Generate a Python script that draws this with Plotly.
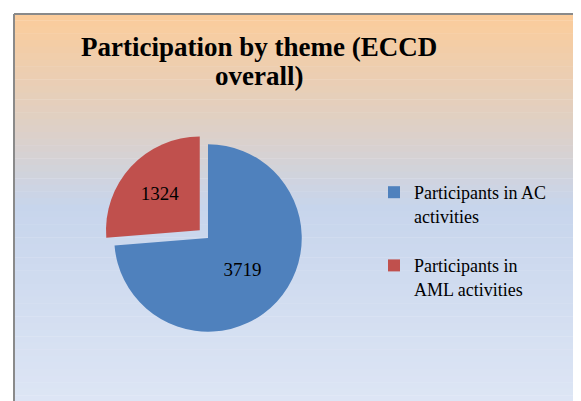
import plotly.graph_objects as go

categories = ["Participants in AC<br>activities<br> ", "Participants in<br>AML activities"]
values = [3719, 1324]
colors = ["#4F81BD", "#C0504D"]
title_lines = ["Participation by theme (ECCD", "overall)"]

W, H = 581, 401

def lerp(c1, c2, t):
    return tuple(round(a + (b - a) * t) for a, b in zip(c1, c2))

stops = [(6, (252, 204, 154)), (120, (222, 208, 198)), (200, (199, 213, 236)), (401, (222, 230, 245))]

shapes = []
N = 60
y0 = 6
for i in range(N):
    ya = y0 + (H - y0) * i / N
    yb = y0 + (H - y0) * (i + 1) / N
    ym = (ya + yb) / 2
    for (p1, c1), (p2, c2) in zip(stops[:-1], stops[1:]):
        if p1 <= ym <= p2:
            c = lerp(c1, c2, (ym - p1) / (p2 - p1))
            break
    else:
        c = stops[-1][1]
    shapes.append(dict(type="rect", xref="paper", yref="paper", layer="below",
                       x0=6 / W, x1=1, y0=1 - yb / H, y1=1 - ya / H + 0.001,
                       fillcolor="rgb(%d,%d,%d)" % c, line=dict(width=0)))
# frame border (left, top)
shapes.append(dict(type="line", xref="paper", yref="paper", x0=6 / W, x1=6 / W, y0=0, y1=1 - 6 / H,
                   line=dict(color="#8a8a8a", width=2)))
shapes.append(dict(type="line", xref="paper", yref="paper", x0=6 / W, x1=1, y0=1 - 6 / H, y1=1 - 6 / H,
                   line=dict(color="#8a8a8a", width=2)))

fig = go.Figure(go.Pie(
    labels=categories, values=values, sort=False, direction="clockwise", rotation=0,
    pull=[0, 0.12], marker=dict(colors=colors, line=dict(width=0)),
    textinfo="value", textposition="inside", insidetextorientation="horizontal",
    textfont=dict(family="Liberation Serif", size=19, color="black"),
    domain=dict(x=[15 / W, 385 / W], y=[1 - 335 / H, 1 - 125 / H]),
    hoverinfo="label+value",
))

annotations = []
for txt, yc in zip(title_lines, [39, 68]):
    annotations.append(dict(text="<b>" + txt + "</b>", xref="paper", yref="paper",
                            x=251 / W, y=1 - yc / H, xanchor="center", yanchor="middle", showarrow=False,
                            font=dict(family="Liberation Serif", size=27, color="black")))

fig.update_layout(
    width=W, height=H, margin=dict(l=0, r=0, t=0, b=0),
    paper_bgcolor="white", plot_bgcolor="white",
    shapes=shapes,
    annotations=annotations,
    legend=dict(x=366 / W, y=1 - 166 / H, xanchor="left", yanchor="top", valign="top",
                font=dict(family="Liberation Serif", size=18, color="black"),
                bgcolor="rgba(0,0,0,0)", itemwidth=30),
    showlegend=True,
)

fig.write_html("out.html")
